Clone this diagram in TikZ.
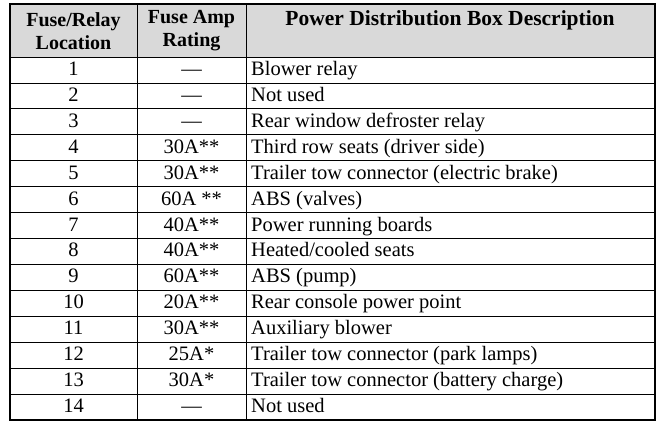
\documentclass[tikz,border=0pt]{standalone}
\usepackage{fontspec}
\setmainfont{Liberation Serif}
\begin{document}
\begin{tikzpicture}[x=1pt,y=-1pt,
  cell/.style={font=\fontsize{20.5}{20}\selectfont, inner sep=0pt, text height=13pt, text depth=2pt},
  hd/.style={font=\bfseries\fontsize{20}{23}\selectfont, align=center, inner sep=0pt},
  grid/.style={line width=1.2pt}]
\useasboundingbox (0,0) rectangle (664,427);
\fill[gray!30] (10,4) rectangle (655,57);
\node[hd] (h1) at (73.5,31) {Fuse/Relay\\Location};
\node[hd] (h2) at (191.5,31) {Fuse Amp\\Rating};
\node[hd,font=\bfseries\fontsize{21.5}{23}\selectfont] (h3) at (450,20) {Power Distribution Box Description};
\foreach \i/\a/\b/\d in {1/1/---/Blower relay,2/2/---/Not used,3/3/---/Rear window defroster relay,
4/4/30A**/Third row seats (driver side),5/5/30A**/Trailer tow connector (electric brake),
6/6/60A **/ABS (valves),7/7/40A**/Power running boards,8/8/40A**/{Heated/cooled seats},
9/9/60A**/ABS (pump),10/10/20A**/Rear console power point,11/11/30A**/Auxiliary blower,
12/12/25A*/Trailer tow connector (park lamps),13/13/30A*/Trailer tow connector (battery charge),14/14/---/Not used}{
  \pgfmathsetmacro{\yy}{57+25.93*(\i-0.5)}
  \node[cell] (a\i) at (73.5,\yy) {\a};
  \node[cell] (b\i) at (191.5,\yy) {\b};
  \node[cell,anchor=west] (c\i) at (251,\yy) {\d};
  \pgfmathsetmacro{\yl}{57+25.93*\i}
  \draw[line width=0.8pt] (10,\yl) -- (655,\yl);
}
\draw[grid] (10,4) rectangle (655,420);
\draw[line width=0.8pt] (10,57) -- (655,57);
\draw[line width=0.8pt] (137,4) -- (137,420) (246,4) -- (246,420);
\end{tikzpicture}
\end{document}
